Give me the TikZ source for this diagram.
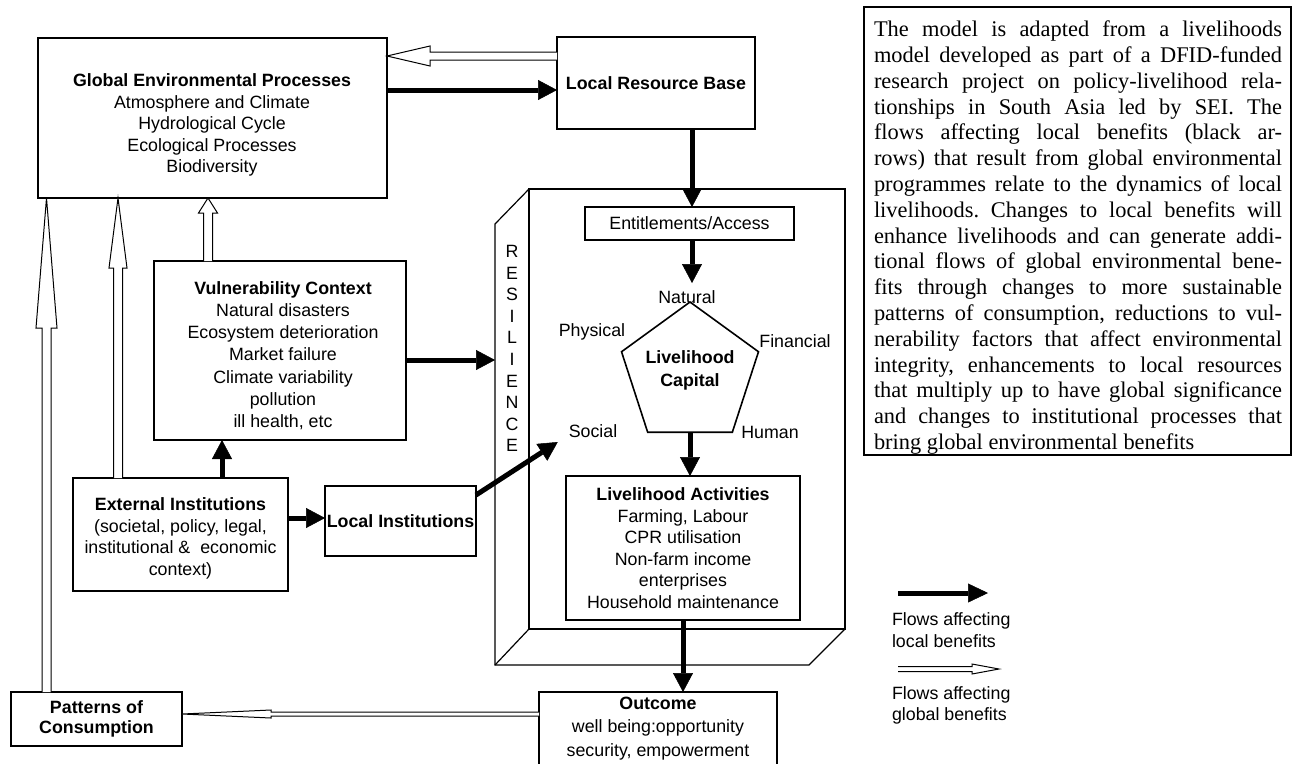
\documentclass[tikz,border=0pt]{standalone}
\usepackage{fontspec}
\setmainfont{Liberation Sans}
\newfontfamily\timesfont{Liberation Serif}
\usetikzlibrary{arrows.meta,calc,shapes.geometric}
\frenchspacing
\newcommand{\garr}[5]{%
  \coordinate (ga-c) at ($(#2)!#5!(#1)$);
  \filldraw[garrow] ($(#1)!#3!90:(#2)$) -- ($(ga-c)!#3!90:(#2)$) -- ($(ga-c)!#4!90:(#2)$) -- (#2) -- ($(ga-c)!#4!-90:(#2)$) -- ($(ga-c)!#3!-90:(#2)$) -- ($(#1)!#3!-90:(#2)$);
}
\newcommand{\jl}[1]{\makebox[408pt][s]{#1}}
\begin{document}
\begin{tikzpicture}[x=1pt,y=-1pt,
  every node/.style={font=\fontsize{17.8}{21.5}\selectfont, inner sep=0pt, outer sep=0pt},
  box/.style={draw, line width=1.2pt, anchor=north west},
  txt/.style={align=center},
  barrow/.style={line width=5pt, -{Triangle[length=19pt,width=20pt,line width=0.5pt]}},
  garrow/.style={fill=white, draw=black, line width=1pt, line join=miter}]
\useasboundingbox (0,0) rectangle (1297,763);
\fill[white] (0,0) rectangle (1297,763);

% 3D resilience box
\node[box, minimum width=316pt, minimum height=440pt] (res) at (529,189) {};
\draw[line width=1.2pt, line join=miter] (res.north west) -- ++(-34,35) -- ++(0,441) -- ++(314,0) -- (res.south east);
\draw[line width=1.2pt] (res.south west) -- ++(-34,36);
\node[align=center, font=\fontsize{17.8}{21.6}\selectfont] (resl) at (512,348.5) {R\\E\\S\\I\\L\\I\\E\\N\\C\\E};

% boxes
\node[box, minimum width=349pt, minimum height=160pt] (gep) at (38,38) {};
\node[txt] (gept) at (212,125) {\textbf{Global Environmental Processes}\\Atmosphere and Climate\\Hydrological Cycle\\Ecological Processes\\Biodiversity};

\node[box, minimum width=198pt, minimum height=92pt] (lrb) at (557,37) {\textbf{Local Resource Base}};
\node[box, minimum width=209pt, minimum height=33pt] (ent) at (585,207) {Entitlements/Access};

\node[box, minimum width=252pt, minimum height=179pt] (vul) at (154,261) {};
\node[txt, font=\fontsize{17.8}{22.2}\selectfont] (vult) at (283,355.5) {\textbf{Vulnerability Context}\\Natural disasters\\Ecosystem deterioration\\Market failure\\Climate variability\\pollution\\ill health, etc};

\node[box, minimum width=215pt, minimum height=113pt] (ext) at (73,478) {};
\node[txt] (extt) at (180.5,538.5) {\textbf{External Institutions}\\(societal, policy, legal,\\institutional \&\ \ economic\\context)};

\node[box, minimum width=151pt, minimum height=70pt] (loc) at (325,486) {\textbf{Local Institutions}};

\node[box, minimum width=234pt, minimum height=144pt, align=center] (la) at (566,476) {\textbf{Livelihood Activities}\\Farming, Labour\\CPR utilisation\\Non-farm income\\enterprises\\Household maintenance};

\node[box, minimum width=238pt, minimum height=73pt, align=center, font=\fontsize{17.8}{23.5}\selectfont] (out) at (539,692) {\textbf{Outcome}\\well being:opportunity\\security, empowerment};

\node[box, minimum width=171pt, minimum height=54pt, align=center, font=\fontsize{17.8}{20}\selectfont] (pat) at (11,692) {\textbf{Patterns of}\\\textbf{Consumption}};

% pentagon
\node[draw, line width=1.6pt, regular polygon, regular polygon sides=5, minimum size=144pt] (cap) at (690,374) {};
\node[txt, font=\fontsize{17.8}{23}\selectfont] (capt) at (690,370) {\textbf{Livelihood}\\\textbf{Capital}};
\node (nat) at (687,297) {Natural};
\node (phy) at (592,332) {Physical};
\node (fin) at (795,341) {Financial};
\node (soc) at (593,431) {Social};
\node (hum) at (770,432) {Human};

% text box
\node[box, minimum width=427pt, minimum height=448pt] (note) at (864,7) {};
\node[anchor=north west, align=left, font=\timesfont\fontsize{22.4}{25.8}\selectfont] (notet) at (874,21) {%
\jl{The model is adapted from a livelihoods}\\
\jl{model developed as part of a DFID-funded}\\
\jl{research project on policy-livelihood rela-}\\
\jl{tionships in South Asia led by SEI. The}\\
\jl{flows affecting local benefits (black ar-}\\
\jl{rows) that result from global environmental}\\
\jl{programmes relate to the dynamics of local}\\
\jl{livelihoods. Changes to local benefits will}\\
\jl{enhance livelihoods and can generate addi-}\\
\jl{tional flows of global environmental bene-}\\
\jl{fits through changes to more sustainable}\\
\jl{patterns of consumption, reductions to vul-}\\
\jl{nerability factors that affect environmental}\\
\jl{integrity, enhancements to local resources}\\
\jl{that multiply up to have global significance}\\
\jl{and changes to institutional processes that}\\
bring global environmental benefits};

% black arrows
\draw[barrow] ($(gep.north east)+(0,52)$) -- ($(lrb.north west)+(0,53)$);
\draw[barrow] ($(lrb.south west)+(135,0)$) -- ($(ent.north west)+(107,0)$);
\coordinate (a4e) at ($(ent.south west)+(107,43)$);
\draw[barrow] ($(ent.south west)+(107,0)$) -- (a4e);
\draw[barrow] (cap.south) -- (cap.south |- la.north);
\draw[barrow] (la.south) -- (la.south |- out.north);
\draw[barrow] ($(vul.north east)+(0,99)$) -- ($(res.north west)+(-34,171)$);
\draw[barrow] ($(ext.north west)+(149,0)$) -- ($(vul.south west)+(68,0)$);
\draw[barrow] ($(ext.north east)+(0,40)$) -- ($(loc.north west)+(0,32)$);
\coordinate (a10e) at ($(soc.west)+(-11,11)$);
\draw[barrow] ($(loc.north east)+(0,9)$) -- (a10e);

% white arrows
\coordinate (w1s) at ($(lrb.north west)+(0,19)$);
\coordinate (w1e) at ($(gep.north east)+(0,18)$);
\garr{w1s}{w1e}{4pt}{10pt}{43pt}
\coordinate (w2s) at ($(vul.north west)+(54,0)$);
\coordinate (w2e) at ($(gep.south west)+(170,0)$);
\garr{w2s}{w2e}{4.5pt}{9.5pt}{15pt}
\coordinate (w3s) at ($(ext.north west)+(45,0)$);
\coordinate (w3e) at ($(gep.south west)+(80,0)$);
\garr{w3s}{w3e}{4.5pt}{9pt}{70pt}
\coordinate (w4s) at ($(pat.north west)+(35.5,0)$);
\coordinate (w4e) at ($(gep.south west)+(8.5,0)$);
\garr{w4s}{w4e}{4.5pt}{10.5pt}{130pt}
\coordinate (w5s) at ($(out.north west)+(0,22)$);
\coordinate (w5e) at ($(pat.north east)+(0,22)$);
\garr{w5s}{w5e}{2pt}{4pt}{89pt}

% legend
\coordinate (lg1s) at (898,593);
\coordinate (lg1e) at (988,593);
\draw[line width=5pt, -{Triangle[length=20pt,width=19pt,line width=0.5pt]}] (lg1s) -- (lg1e);
\node[anchor=west, align=left] (lg1t) at (892,630) {Flows affecting\\local benefits};
\coordinate (lg2s) at (898,669);
\coordinate (lg2e) at (999,669);
\garr{lg2s}{lg2e}{2.5pt}{5pt}{27pt}
\node[anchor=west, align=left] (lg2t) at (892,705.5) {Flows affecting\\global benefits};
\end{tikzpicture}
\end{document}
